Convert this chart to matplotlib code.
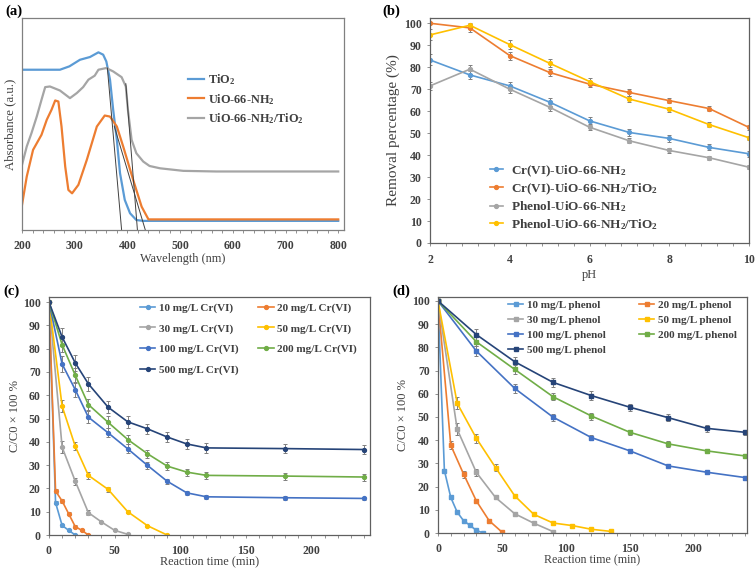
## four panel figure: UV-vis spectra, pH effect and removal kinetics
import matplotlib.pyplot as plt
from matplotlib.ticker import MultipleLocator

plt.rcParams['font.family'] = 'Liberation Serif'
plt.rcParams['font.weight'] = 'bold'
plt.rcParams['mathtext.fontset'] = 'custom'
plt.rcParams['mathtext.rm'] = 'Liberation Serif:bold'
plt.rcParams['mathtext.default'] = 'rm'

## (a) absorbance spectra (arbitrary units 0..1)
wl_tio2 = [200, 272, 290, 310, 329, 345, 354, 360, 367, 373, 380, 386, 395, 405, 417, 430, 800]
ab_tio2 = [0.756, 0.756, 0.772, 0.803, 0.816, 0.838, 0.827, 0.795, 0.709, 0.567, 0.425, 0.268,
           0.142, 0.079, 0.047, 0.043, 0.043]
wl_uio = [200, 209, 221, 237, 247, 256, 263, 269, 275, 282, 288, 295, 307, 323, 342, 357, 367,
          380, 392, 411, 427, 440, 800]
ab_uio = [0.118, 0.252, 0.378, 0.449, 0.520, 0.567, 0.611, 0.606, 0.488, 0.299, 0.189, 0.173,
          0.213, 0.331, 0.488, 0.540, 0.535, 0.488, 0.394, 0.236, 0.110, 0.050, 0.050]
wl_comp = [200, 209, 218, 228, 237, 244, 253, 272, 291, 304, 316, 326, 338, 345, 360, 373, 389,
           397, 401, 408, 417, 430, 442, 462, 506, 569, 800]
ab_comp = [0.307, 0.394, 0.457, 0.535, 0.614, 0.674, 0.677, 0.658, 0.622, 0.646, 0.674, 0.709,
           0.728, 0.756, 0.764, 0.748, 0.721, 0.677, 0.567, 0.425, 0.362, 0.323, 0.302, 0.291,
           0.279, 0.276, 0.276]
## band-edge tangent lines
tan_x = [[362, 389], [375, 434], [397, 419]]
tan_y = [[0.764, 0.0], [0.49, 0.0], [0.69, 0.0]]

## (b) removal vs pH
ph = [2, 3, 4, 5, 6, 7, 8, 9, 10]
cr_uio = [83.3, 76.5, 71.5, 64.1, 55.6, 50.3, 47.6, 43.5, 40.6]
cr_comp = [100, 97.9, 85.3, 77.6, 72.3, 68.5, 64.8, 61.2, 52.6]
phe_uio = [71.5, 79.1, 70.0, 61.8, 52.7, 46.5, 42.1, 38.8, 34.5]
phe_comp = [94.7, 99.1, 90.3, 81.8, 73.5, 65.5, 60.9, 53.9, 47.9]
cr_uio_err = [2.5, 2.0, 2.0, 1.8, 1.8, 1.6, 1.5, 1.4, 1.3]
cr_comp_err = [0.5, 1.8, 1.8, 1.6, 1.5, 1.4, 1.3, 1.2, 1.0]
phe_uio_err = [2.0, 2.0, 1.8, 1.6, 1.4, 1.2, 1.0, 1.0, 0.8]
phe_comp_err = [2.5, 1.0, 2.0, 1.8, 1.6, 1.4, 1.2, 1.2, 1.0]

## (c) Cr(VI) kinetics
t10c = [0, 5, 10, 15, 20]
c10c = [100, 13.9, 4.1, 2, 0]
e10c = [0, 0.5, 0.5, 0.3, 0.2]
t20c = [0, 5, 10, 15, 20, 25, 30]
c20c = [100, 18.9, 14.6, 9.1, 3.6, 2, 0]
e20c = [0, 0.8, 0.8, 0.6, 0.5, 0.4, 0.3]
t30c = [0, 10, 20, 30, 40, 50, 60]
c30c = [100, 37.7, 23.1, 9.6, 5.6, 2, 0.3]
e30c = [0, 2.5, 1.5, 1.0, 0.6, 0.4, 0.2]
t50c = [0, 10, 20, 30, 45, 60, 75, 90]
c50c = [100, 55.3, 38.1, 25.6, 19.6, 10, 4, 0]
e50c = [0, 2.5, 1.8, 1.5, 1.0, 0.6, 0.4, 0.2]
tlc = [0, 10, 20, 30, 45, 60, 75, 90, 105, 120, 180, 240]
c100c = [100, 73.4, 62.4, 50.6, 43.9, 37, 29.9, 23.1, 18.1, 16.4, 16, 15.7]
e100c = [0, 3.5, 3, 2.5, 2, 2, 1.5, 1, 0.8, 0.8, 0.8, 0.8]
c200c = [100, 81.7, 68.6, 56, 48.4, 41, 34.9, 29.6, 27, 25.6, 25.3, 24.9]
e200c = [0, 3, 3, 2.5, 2.5, 2, 1.8, 1.8, 1.5, 1.5, 1.5, 1.5]
c500c = [100, 85, 73.9, 64.9, 54.9, 48.6, 45.6, 42.1, 39.1, 37.4, 37.1, 36.7]
e500c = [0, 4, 3.5, 3, 2.5, 2.5, 2.2, 2.2, 2, 2, 2, 2]

## (d) phenol kinetics
t10d = [0, 5, 10, 15, 20, 25, 30, 35]
c10d = [100, 26.9, 15.3, 9.0, 5.3, 3.3, 1.1, 0.1]
e10d = [0, 0.5, 0.5, 0.5, 0.4, 0.3, 0.2, 0.1]
t20d = [0, 10, 20, 30, 40, 50]
c20d = [100, 37.8, 25.4, 13.8, 5.3, 0.4]
e20d = [0, 1.8, 1.5, 1.0, 0.5, 0.2]
t30d = [0, 15, 30, 45, 60, 75, 90]
c30d = [100, 44.7, 26.1, 15.3, 8.3, 4.2, 0.6]
e30d = [0, 2.5, 1.5, 0.8, 0.5, 0.3, 0.2]
t50d = [0, 15, 30, 45, 60, 75, 90, 105, 120, 135]
c50d = [100, 55.9, 40.8, 28.2, 16.0, 8.0, 4.3, 3.2, 1.6, 0.7]
e50d = [0, 2.5, 2.0, 1.5, 1.0, 0.6, 0.4, 0.3, 0.3, 0.2]
tld = [0, 30, 60, 90, 120, 150, 180, 210, 240]
c100d = [100, 78.4, 62.3, 49.9, 41.1, 35.4, 28.9, 26.2, 23.9]
e100d = [0, 2.2, 2.0, 1.5, 1.2, 1.0, 0.6, 0.6, 0.6]
c200d = [100, 82.4, 70.5, 58.7, 50.4, 43.4, 38.4, 35.4, 33.2]
e200d = [0, 2.0, 1.8, 1.6, 1.5, 1.2, 1.2, 1.0, 1.0]
c500d = [100, 85.5, 73.8, 64.9, 59.2, 54.2, 49.7, 45.1, 43.4]
e500d = [0, 2.5, 2.2, 2.0, 1.8, 1.5, 1.5, 1.5, 1.0]

C_LB = '#5B9BD5'
C_OR = '#ED7D31'
C_GR = '#A5A5A5'
C_YE = '#FFC000'
C_BL = '#4472C4'
C_GN = '#70AD47'
C_DB = '#264478'
TXT = '#404040'

W, H = 756, 571
fig = plt.figure(figsize=(W / 100, H / 100), dpi=100)


def box(l, t, r, b, spine='#606060'):
    ax = fig.add_axes([l / W, 1 - b / H, (r - l) / W, (b - t) / H])
    for s in ax.spines.values():
        s.set_color(spine)
        s.set_linewidth(0.9)
    ax.tick_params(which='both', direction='out', colors='#808080', labelcolor=TXT,
                   labelsize=8.5, length=2, width=0.6, pad=4)
    ax.tick_params(top=False, right=False)
    return ax


def series(ax, x, y, e, c, lab, mk):
    ## returns just the line, so the legend shows line + marker without the error bar
    eb = ax.errorbar(x, y, yerr=e, fmt='-' + mk, color=c, lw=1.2, ms=2.8,
                     ecolor='#7f7f7f', elinewidth=0.7, capsize=1.5, capthick=0.7)
    eb[0].set_label(lab)
    return eb[0]


## ---------------- (a)
ax = box(22, 18, 344, 230, spine='#808080')
ax.plot(wl_tio2, ab_tio2, color=C_LB, lw=1.6, label='TiO$_2$')
ax.plot(wl_uio, ab_uio, color=C_OR, lw=1.6, label='UiO-66-NH$_2$')
ax.plot(wl_comp, ab_comp, color=C_GR, lw=1.6, label='UiO-66-NH$_2$/TiO$_2$')
for tx, ty in zip(tan_x, tan_y):
    ax.plot(tx, ty, color='#404040', lw=0.7)
ax.set_xlim(200, 811)
ax.set_ylim(0, 1)
ax.set_yticks([])
ax.xaxis.set_major_locator(MultipleLocator(100))
ax.xaxis.set_minor_locator(MultipleLocator(20))
ax.tick_params(axis='x', pad=5)
ax.set_xlabel('Wavelength (nm)', fontsize=8.8, color=TXT, labelpad=1)
ax.set_ylabel('Absorbance (a.u.)', fontsize=9.2, color=TXT, labelpad=4)
ax.legend(loc='upper left', bbox_to_anchor=(0.516, 0.745), frameon=False, fontsize=8.8,
          handlelength=1.3, handletextpad=0.3, labelspacing=0.4, borderpad=0, borderaxespad=0,
          labelcolor=TXT)
fig.text(5 / W, 1 - 11 / H, '(a)', fontsize=10.5, va='center')

## ---------------- (b)
ax = box(430, 18, 749, 243)
bh = [series(ax, ph, cr_uio, cr_uio_err, C_LB, 'Cr(VI)-UiO-66-NH$_2$', 'o'),
      series(ax, ph, cr_comp, cr_comp_err, C_OR, 'Cr(VI)-UiO-66-NH$_2$/TiO$_2$', 'o'),
      series(ax, ph, phe_uio, phe_uio_err, C_GR, 'Phenol-UiO-66-NH$_2$', 'o'),
      series(ax, ph, phe_comp, phe_comp_err, C_YE, 'Phenol-UiO-66-NH$_2$/TiO$_2$', 'o')]
ax.set_xlim(2, 10)
ax.set_ylim(0, 102.4)
ax.xaxis.set_major_locator(MultipleLocator(2))
ax.xaxis.set_minor_locator(MultipleLocator(0.4))
ax.yaxis.set_major_locator(MultipleLocator(10))
ax.tick_params(axis='x', pad=6)
ax.set_xlabel('pH', fontsize=9, color=TXT, labelpad=2)
ax.set_ylabel('Removal percentage (%)', fontsize=11, color=TXT, labelpad=3)
ax.legend(bh, [h.get_label() for h in bh], loc='upper left', bbox_to_anchor=(0.188, 0.355),
          frameon=False, fontsize=9.5, handlelength=0.95, handletextpad=0.65, labelspacing=0.2,
          borderpad=0, borderaxespad=0, labelcolor=TXT)
fig.text(382 / W, 1 - 11 / H, '(b)', fontsize=10.5, va='center')

## ---------------- (c)
ax = box(49, 297, 370, 535)
h10 = series(ax, t10c, c10c, e10c, C_LB, '10 mg/L Cr(VI)', 'o')
h20 = series(ax, t20c, c20c, e20c, C_OR, '20 mg/L Cr(VI)', 'o')
h30 = series(ax, t30c, c30c, e30c, C_GR, '30 mg/L Cr(VI)', 'o')
h50 = series(ax, t50c, c50c, e50c, C_YE, '50 mg/L Cr(VI)', 'o')
h100 = series(ax, tlc, c100c, e100c, C_BL, '100 mg/L Cr(VI)', 'o')
h200 = series(ax, tlc, c200c, e200c, C_GN, '200 mg/L Cr(VI)', 'o')
h500 = series(ax, tlc, c500c, e500c, C_DB, '500 mg/L Cr(VI)', 'o')
ax.set_xlim(0, 244.6)
ax.set_ylim(0, 102.2)
ax.xaxis.set_major_locator(MultipleLocator(50))
ax.xaxis.set_minor_locator(MultipleLocator(10))
ax.yaxis.set_major_locator(MultipleLocator(10))
ax.tick_params(axis='x', pad=5)
ax.set_xlabel('Reaction time (min)', fontsize=8.8, color=TXT, labelpad=0)
ax.set_ylabel('C/C0 × 100 %', fontsize=9, color=TXT, fontweight='normal', labelpad=1)
hs = [h10, h30, h100, h500, h20, h50, h200]
ax.legend(hs, [h.get_label() for h in hs], ncol=2, loc='upper left', bbox_to_anchor=(0.283, 0.975),
          frameon=False, fontsize=8, handlelength=1.4, handletextpad=0.3, labelspacing=0.95,
          columnspacing=1.8, borderpad=0, borderaxespad=0, labelcolor=TXT)
fig.text(3 / W, 1 - 291 / H, '(c)', fontsize=10.5, va='center')

## ---------------- (d)
ax = box(438, 297, 747, 533)
g10 = series(ax, t10d, c10d, e10d, C_LB, '10 mg/L phenol', 's')
g20 = series(ax, t20d, c20d, e20d, C_OR, '20 mg/L phenol', 's')
g30 = series(ax, t30d, c30d, e30d, C_GR, '30 mg/L phenol', 's')
g50 = series(ax, t50d, c50d, e50d, C_YE, '50 mg/L phenol', 's')
g100 = series(ax, tld, c100d, e100d, C_BL, '100 mg/L phenol', 's')
g200 = series(ax, tld, c200d, e200d, C_GN, '200 mg/L phenol', 's')
g500 = series(ax, tld, c500d, e500d, C_DB, '500 mg/L phenol', 's')
ax.set_xlim(0, 241.6)
ax.set_ylim(0, 101.7)
ax.xaxis.set_major_locator(MultipleLocator(50))
ax.xaxis.set_minor_locator(MultipleLocator(10))
ax.yaxis.set_major_locator(MultipleLocator(10))
ax.tick_params(axis='x', pad=5)
ax.set_xlabel('Reaction time (min)', fontsize=8.6, color=TXT, labelpad=0)
ax.set_ylabel('C/C0 × 100 %', fontsize=9, color=TXT, fontweight='normal', labelpad=2)
gs = [g10, g30, g100, g500, g20, g50, g200]
ax.legend(gs, [g.get_label() for g in gs], ncol=2, loc='upper left', bbox_to_anchor=(0.226, 0.985),
          frameon=False, fontsize=8, handlelength=1.4, handletextpad=0.3, labelspacing=0.45,
          columnspacing=3.0, borderpad=0, borderaxespad=0, labelcolor=TXT)
fig.text(392 / W, 1 - 291 / H, '(d)', fontsize=10.5, va='center')

fig.savefig('out.png', dpi=100)
